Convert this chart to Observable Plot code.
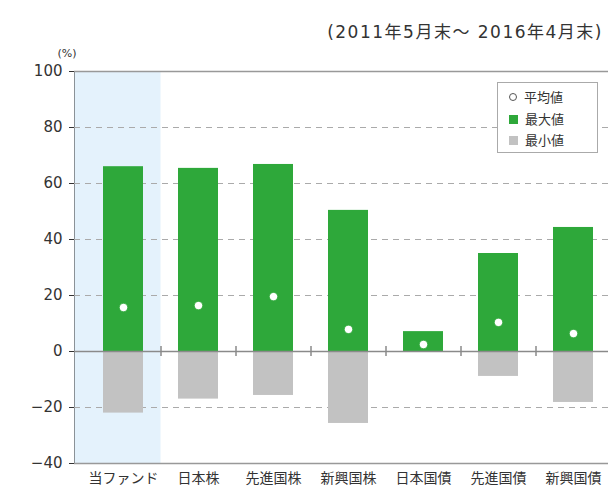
<!DOCTYPE html>
<html><head><meta charset="utf-8">
<script src="https://cdn.jsdelivr.net/npm/d3@7"></script>
<script src="https://cdn.jsdelivr.net/npm/@observablehq/plot@0.6"></script>
<style>
body{margin:0;background:#fff;font-family:"DejaVu Sans","Noto Sans CJK JP",sans-serif;}
#wrap{position:relative;width:608px;height:495px;overflow:hidden;}
#title{position:absolute;right:5px;top:18px;font-size:17px;color:#333;letter-spacing:1.5px;white-space:nowrap;}
#legend{position:absolute;left:497px;top:82px;width:101px;height:71px;border:1.5px solid #aaa;box-sizing:border-box;background:#fff;font-family:"Noto Sans CJK JP",sans-serif;font-size:13px;color:#333;padding:3px 0 0 11px;line-height:21.5px;}
#legend span.sw{display:inline-block;width:9px;height:9px;margin-right:7px;vertical-align:0px;}
#legend span.c{display:inline-block;width:6px;height:6px;border:1.5px solid #555;border-radius:50%;margin-right:7px;vertical-align:1px;}
</style></head>
<body><div id="wrap"><div id="chart"></div><div id="title">(2011年5月末～ 2016年4月末)</div>
<div id="legend"><div><span class="c"></span>平均値</div><div><span class="sw" style="background:#2ea83a"></span>最大値</div><div><span class="sw" style="background:#c2c2c2"></span>最小値</div></div></div>
<script>
const categories = ["当ファンド","日本株","先進国株","新興国株","日本国債","先進国債","新興国債"];
const maxValues = [66.0, 65.4, 66.8, 50.4, 7.1, 35.0, 44.3];
const minValues = [-22.0, -17.0, -15.7, -25.7, -0.3, -8.9, -18.2];
const avgValues = [15.7, 16.4, 19.6, 7.9, 2.5, 10.4, 6.4];
const yTicks = [-40, -20, 0, 20, 40, 60, 80, 100];
const gridTicks = [-20, 20, 40, 60, 80];

const data = categories.map((c, i) => ({cat: c, max: maxValues[i], min: minValues[i], avg: avgValues[i]}));

const chart = Plot.plot({
  width: 608, height: 495,
  marginLeft: 74, marginRight: 0, marginTop: 71, marginBottom: 32,
  style: {fontFamily: '"DejaVu Sans","Noto Sans CJK JP",sans-serif', fontSize: "15px", color: "#333", background: "transparent", overflow: "visible"},
  x: {domain: categories, range: [85, 610], paddingInner: 0.467, paddingOuter: 0.2335, axis: null},
  y: {domain: [-40, 100], ticks: yTicks, tickSize: 5, tickPadding: 7, line: true, label: null,
      tickFormat: d => d < 0 ? "−" + Math.abs(d) : String(d)},
  marks: [
    Plot.barY([categories[0]], {x: d => d, y1: -40, y2: 100, fill: "#e4f2fc", insetLeft: -28.5, insetRight: -17.5}),
    Plot.ruleY(gridTicks, {stroke: "#aaa", strokeDasharray: "6,5", strokeWidth: 1.2}),
    Plot.barY(data, {x: "cat", y1: 0, y2: "max", fill: "#2ea83a"}),
    Plot.barY(data, {x: "cat", y1: 0, y2: "min", fill: "#c2c2c2"}),
    Plot.ruleY([0], {stroke: "#8a8a8a", strokeWidth: 1.5}),
    Plot.ruleX(categories.slice(0, 6), {x: d => d, dx: 37.5, y1: -1.8, y2: 1.8, stroke: "#8a8a8a", strokeWidth: 1.5}),
    Plot.ruleY([100, -40], {stroke: "#999", strokeWidth: 1.5}),
    Plot.dot(data, {x: "cat", y: "avg", r: 4.2, fill: "#fff", stroke: "#2ea83a", strokeWidth: 0.8}),
    Plot.text(["(%)"], {frameAnchor: "top-left", dx: -17, dy: -22, text: d => d, fontSize: 11, fill: "#333"}),
    Plot.text(categories, {x: d => d, frameAnchor: "bottom", dy: 19, text: d => d, fontSize: 14, fill: "#333", fontFamily: '"Noto Sans CJK JP",sans-serif'})
  ]
});
document.getElementById("chart").appendChild(chart);
</script></body></html>
